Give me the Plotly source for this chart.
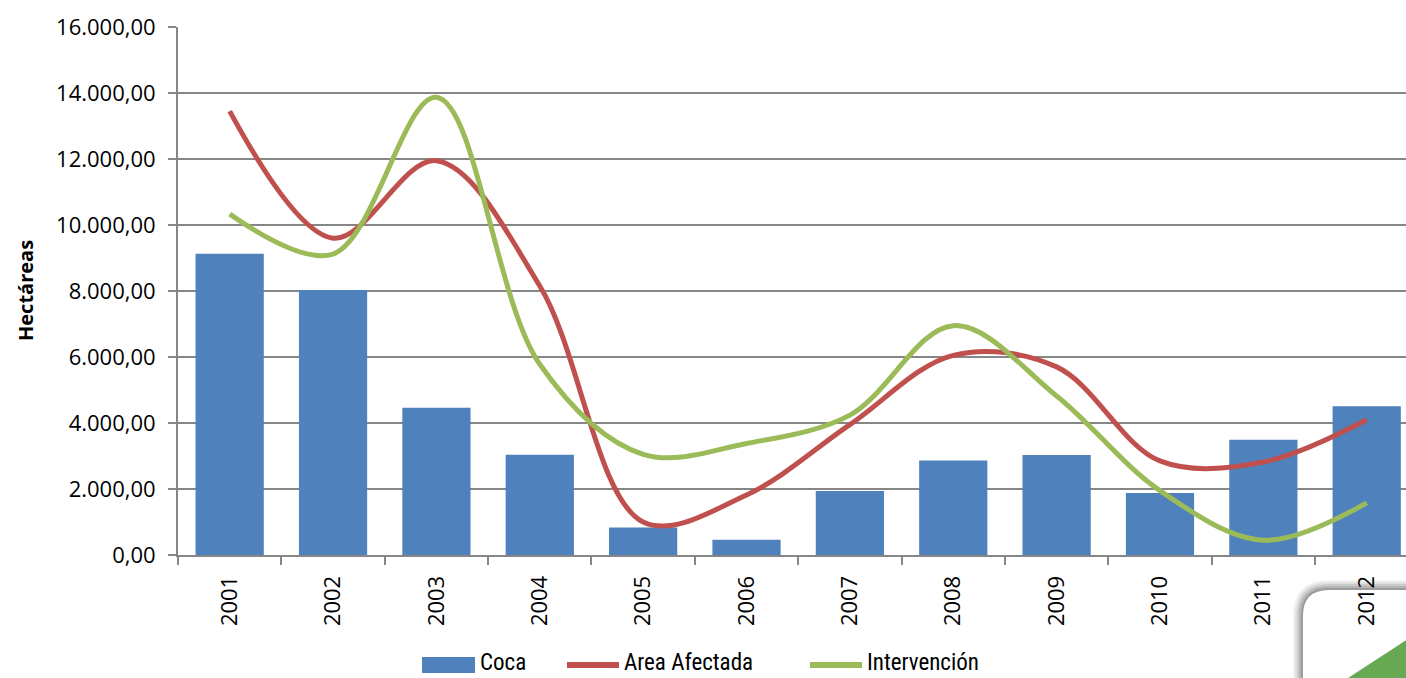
import plotly.graph_objects as go

# Hectares per year
years = ["2001", "2002", "2003", "2004", "2005", "2006",
         "2007", "2008", "2009", "2010", "2011", "2012"]
coca = [9130, 8030, 4460, 3040, 830, 460, 1940, 2860, 3030, 1880, 3490, 4510]
area_afectada = [13450, 9600, 11950, 8150, 1000, 1820, 3950, 6050, 5700, 2850, 2820, 4100]
intervencion = [10330, 9120, 13870, 5780, 3050, 3380, 4240, 6950, 4820, 1950, 450, 1580]
y_ticks = [0, 2000, 4000, 6000, 8000, 10000, 12000, 14000, 16000]

BLUE, RED, GREEN = "#4f81bd", "#c0504d", "#9bbb59"
W, H = 1406, 678
L, R, T, B = 178, 0, 27, 123

fig = go.Figure()
fig.add_trace(go.Bar(x=years, y=coca, name="Coca",
                     marker=dict(color=BLUE, line=dict(width=0)),
                     width=0.66))
fig.add_trace(go.Scatter(x=years, y=area_afectada, name="Area Afectada",
                         mode="lines",
                         line=dict(color=RED, width=5, shape="spline", smoothing=1.0)))
fig.add_trace(go.Scatter(x=years, y=intervencion, name="Intervención",
                         mode="lines",
                         line=dict(color=GREEN, width=5, shape="spline", smoothing=1.0)))


def px_x(p):
    return (p - L) / (W - L - R)


def px_y(p):
    return (H - B - p) / (H - T - B)


def panel_path(x0, y0, r):
    return (f"M {px_x(x0)},{px_y(H + 5)} L {px_x(x0)},{px_y(y0 + r)} "
            f"Q {px_x(x0)},{px_y(y0)} {px_x(x0 + r)},{px_y(y0)} "
            f"L {px_x(W + 5)},{px_y(y0)} L {px_x(W + 5)},{px_y(H + 5)} Z")


# decorative rounded panel in the lower-right corner, with a soft shadow
shapes = []
for i, op in enumerate([0.05, 0.07, 0.09, 0.11, 0.13]):
    d = 10 - 2 * i
    shapes.append(dict(type="path", xref="paper", yref="paper",
                       path=panel_path(1303 - d, 590 - d, 26 + d),
                       fillcolor=f"rgba(0,0,0,{op})", line=dict(width=0), layer="below"))
shapes.append(dict(type="path", xref="paper", yref="paper",
                   path=panel_path(1303, 590, 26),
                   fillcolor="white", line=dict(width=0), layer="below"))
tri = (f"M {px_x(1345)},{px_y(H + 2)} L {px_x(W + 2)},{px_y(639)} "
       f"L {px_x(W + 2)},{px_y(H + 2)} Z")
shapes.append(dict(type="path", xref="paper", yref="paper", path=tri,
                   fillcolor="#66a952", line=dict(width=0), layer="below"))

# legend row drawn with shapes and labels
legend_font = dict(size=23, family="Liberation Sans Narrow, Roboto Condensed, Noto Sans, sans-serif",
                   color="black")
ly = 665
shapes.append(dict(type="rect", xref="paper", yref="paper",
                   x0=px_x(422), x1=px_x(475), y0=px_y(673), y1=px_y(657),
                   fillcolor=BLUE, line=dict(width=0)))
shapes.append(dict(type="line", xref="paper", yref="paper",
                   x0=px_x(567), x1=px_x(619), y0=px_y(ly), y1=px_y(ly),
                   line=dict(color=RED, width=6)))
shapes.append(dict(type="line", xref="paper", yref="paper",
                   x0=px_x(810), x1=px_x(862), y0=px_y(ly), y1=px_y(ly),
                   line=dict(color=GREEN, width=6)))
annotations = []
for label, xp in [("Coca", 479), ("Area Afectada", 623), ("Intervención", 866)]:
    annotations.append(dict(text=label, xref="paper", yref="paper",
                            x=px_x(xp), y=px_y(H - 1), xanchor="left", yanchor="bottom",
                            showarrow=False, borderpad=0, font=legend_font))
annotations.append(dict(text="<b>Hectáreas</b>", xref="paper", yref="paper",
                        x=px_x(25), y=px_y(291), xanchor="center", yanchor="middle",
                        textangle=-90, showarrow=False,
                        font=dict(size=20, family="Open Sans, sans-serif", color="black")))

fig.update_layout(
    width=W, height=H,
    margin=dict(l=L, r=R, t=T, b=B, pad=0),
    paper_bgcolor="white", plot_bgcolor="rgba(0,0,0,0)",
    separators=",.",
    font=dict(family="Open Sans, Noto Sans, sans-serif", color="black"),
    showlegend=False,
    shapes=shapes,
    annotations=annotations,
)
fig.update_xaxes(
    type="category", range=[-0.5, 11.38], automargin=False,
    showline=True, linecolor="#868686", linewidth=2,
    showgrid=False,
    ticks="outside", tickson="boundaries", ticklen=8, tickcolor="#868686", tickwidth=2,
    tickangle=-90, ticklabelstandoff=10,
    tickfont=dict(size=22, family="Open Sans, sans-serif", color="black"),
)
fig.update_yaxes(
    range=[0, 16000], tickvals=y_ticks, tickformat=",.2f", automargin=False,
    showline=True, linecolor="#868686", linewidth=2,
    showgrid=True, gridcolor="#868686", gridwidth=2,
    zeroline=False,
    ticks="outside", ticklen=8, tickcolor="#868686", tickwidth=2,
    ticklabelstandoff=8,
    tickfont=dict(size=22, family="Open Sans, sans-serif", color="black"),
)

fig.write_html("out.html")
